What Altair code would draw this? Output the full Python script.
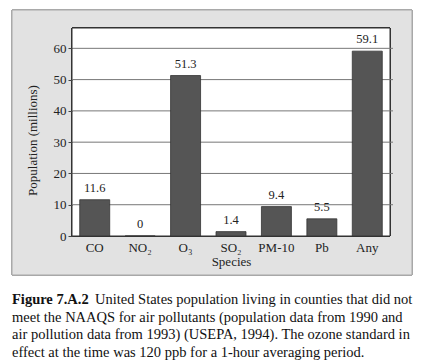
import altair as alt
import pandas as pd

species = ["CO", "NO₂", "O₃", "SO₂", "PM-10", "Pb", "Any"]
population = [11.6, 0, 51.3, 1.4, 9.4, 5.5, 59.1]
labels = ["11.6", "0", "51.3", "1.4", "9.4", "5.5", "59.1"]
y_ticks = [0, 10, 20, 30, 40, 50, 60]
caption_bold = "Figure 7.A.2"
caption_lines = [
    "  United States population living in counties that did not",
    "meet the NAAQS for air pollutants (population data from 1990 and",
    "air pollution data from 1993) (USEPA, 1994). The ozone standard in",
    "effect at the time was 120 ppb for a 1-hour averaging period.",
]

W, H = 318, 208
FONT = "Liberation Serif"
YDOM = [0, 66.5]

df = pd.DataFrame({"species": species, "population": population, "label": labels})
grid_df = pd.DataFrame({"v": y_ticks[1:]})

xs = alt.X("species:N", sort=species, title="Species",
           scale=alt.Scale(paddingInner=0.34, paddingOuter=0.17),
           axis=alt.Axis(labelAngle=0, domain=False, ticks=False, labelPadding=5,
                         labelFont=FONT, labelFontSize=13, labelColor="#222",
                         titleFont=FONT, titleFontSize=13, titleFontWeight="normal",
                         titleColor="#222", titlePadding=1, zindex=2))
yaxis = alt.Axis(values=y_ticks, tickCount=7, domain=False, grid=False, tickSize=4,
                 tickColor="#444", labelPadding=2, labelOverlap=False,
                 labelFont=FONT, labelFontSize=13, labelColor="#222",
                 titleFont=FONT, titleFontSize=13, titleFontWeight="normal",
                 titleColor="#222", titlePadding=14, titleY=112, zindex=2)
yscale = alt.Scale(domain=YDOM, nice=False)
ys = alt.Y("population:Q", title="Population (millions)", scale=yscale, axis=yaxis)

base = alt.Chart(df)

gray_box = base.mark_rect(fill="#e2e2e2", stroke="#a8a8a8", strokeWidth=1).encode(
    x=alt.value(-60), x2=alt.value(340), y=alt.value(-18), y2=alt.value(247))

plot_box = base.mark_rect(fill="white", stroke="#333", strokeWidth=1).encode(
    x=alt.value(0), x2=alt.value(W), y=alt.value(0), y2=alt.value(H))

grid = alt.Chart(grid_df).mark_rule(color="#777", strokeWidth=1).encode(
    y=alt.Y("v:Q", title="Population (millions)", scale=yscale, axis=yaxis),
    x=alt.value(0), x2=alt.value(W + 3))

bars = base.mark_bar(color="#555555", stroke="#333", strokeWidth=0.8).encode(x=xs, y=ys)

vals = base.mark_text(font=FONT, fontSize=12.5, color="#222", dy=-5, baseline="bottom").encode(
    x=alt.X("species:N", sort=species), y=ys, text="label:N")

baselines = [276, 293.5, 311, 328.5]
cap_df = pd.DataFrame({"t": caption_lines, "yb": baselines})

cap_bold = alt.Chart(pd.DataFrame({"t": [caption_bold]})).mark_text(
    font=FONT, fontSize=14.5, fontWeight="bold", align="left", baseline="alphabetic",
    color="#111").encode(x=alt.value(-60), y=alt.value(baselines[0]), text="t:N")

cap_first = alt.Chart(cap_df.iloc[[0]]).mark_text(
    font=FONT, fontSize=14.5, align="left", baseline="alphabetic",
    color="#111").encode(x=alt.value(23), y=alt.value(baselines[0]), text="t:N")

cap_rest = [
    alt.Chart(cap_df.iloc[[i]]).mark_text(
        font=FONT, fontSize=14.5, align="left", baseline="alphabetic",
        color="#111").encode(x=alt.value(-60), y=alt.value(baselines[i]), text="t:N")
    for i in range(1, 4)
]

chart = alt.layer(gray_box, plot_box, grid, bars, vals, cap_bold, cap_first, *cap_rest).properties(
    width=W, height=H,
    autosize=alt.AutoSizeParams(type="none"),
    padding={"left": 64, "top": 20, "right": 25, "bottom": 126},
    background="white",
).configure_view(stroke=None)

chart.save("out.html", embed_options={"renderer": "svg", "actions": False})
